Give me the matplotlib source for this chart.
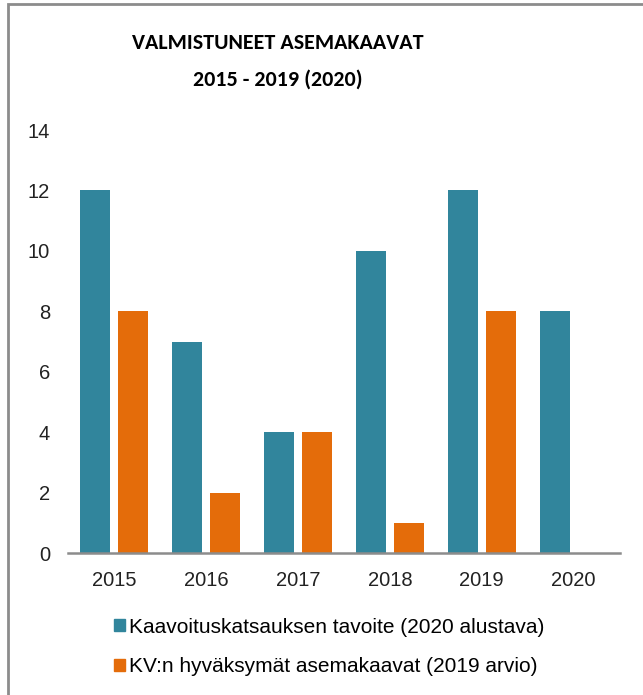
"""Valmistuneet asemakaavat 2015-2019 (2020) bar chart."""

import matplotlib

matplotlib.use("Agg")
import matplotlib.pyplot as plt
import numpy as np
from matplotlib import font_manager
from matplotlib.patches import Patch, Rectangle

years = ["2015", "2016", "2017", "2018", "2019", "2020"]
tavoite = [12, 7, 4, 10, 12, 8]
hyvaksytyt = [8, 2, 4, 1, 8, np.nan]
series_labels = [
    "Kaavoituskatsauksen tavoite (2020 alustava)",
    "KV:n hyväksymät asemakaavat (2019 arvio)",
]
y_ticks = [0, 2, 4, 6, 8, 10, 12, 14]
title_lines = ["VALMISTUNEET ASEMAKAAVAT", "2015 - 2019 (2020)"]

TEAL = "#31859C"
ORANGE = "#E46C0A"

plt.rcParams["font.family"] = ["Liberation Sans", "DejaVu Sans"]

# the original title is in a narrow face (Calibri); use a narrow one if there is one
installed = {f.name for f in font_manager.fontManager.ttflist}
title_font = dict(family=["Liberation Sans", "DejaVu Sans"], fontsize=14)
for name in ("Carlito", "Liberation Sans Narrow", "Roboto Condensed", "Open Sans Condensed"):
    if name in installed:
        title_font = dict(family=[name, "DejaVu Sans"], fontsize=15.8)
        break

fig = plt.figure(figsize=(6.43, 6.95), dpi=100)
ax = fig.add_axes([0.1058, 0.2043, 0.858, 0.6086])

x = np.arange(len(years))
width = 0.33
offset = 0.206
ax.bar(x - offset, tavoite, width, color=TEAL)
ax.bar(x + offset, hyvaksytyt, width, color=ORANGE)

ax.set_xlim(-0.5, len(years) - 0.5)
ax.set_ylim(0, 14)
ax.set_yticks(y_ticks)
ax.set_xticks(x)
ax.set_xticklabels(years)
ax.tick_params(axis="both", length=0, labelsize=14.5, colors="#222222")
ax.tick_params(axis="y", pad=13)
ax.tick_params(axis="x", pad=13)
for side in ("top", "right", "left"):
    ax.spines[side].set_visible(False)
ax.spines["bottom"].set_color("#8c8c8c")
ax.spines["bottom"].set_linewidth(1.8)

fig.text(278 / 643, 1 - 43 / 695, title_lines[0], ha="center", va="center",
         fontweight="bold", **title_font)
fig.text(278 / 643, 1 - 79.5 / 695, title_lines[1], ha="center", va="center",
         fontweight="bold", **title_font)

handles = [Patch(color=TEAL), Patch(color=ORANGE)]
fig.legend(handles, series_labels, loc="center left", bbox_to_anchor=(114 / 643, 1 - 647 / 695),
           frameon=False, fontsize=15, handlelength=0.53, handleheight=0.53,
           handletextpad=0.2, labelspacing=1.0, borderaxespad=0, borderpad=0)

# chart border (only left and top edges fall inside the image)
fig.patches.append(Rectangle((8 / 643, -0.05), 1.2, 1 - 4 / 695 + 0.05,
                             transform=fig.transFigure, fill=False,
                             edgecolor="#8c8c8c", linewidth=2))

fig.savefig("out.png", dpi=100)
